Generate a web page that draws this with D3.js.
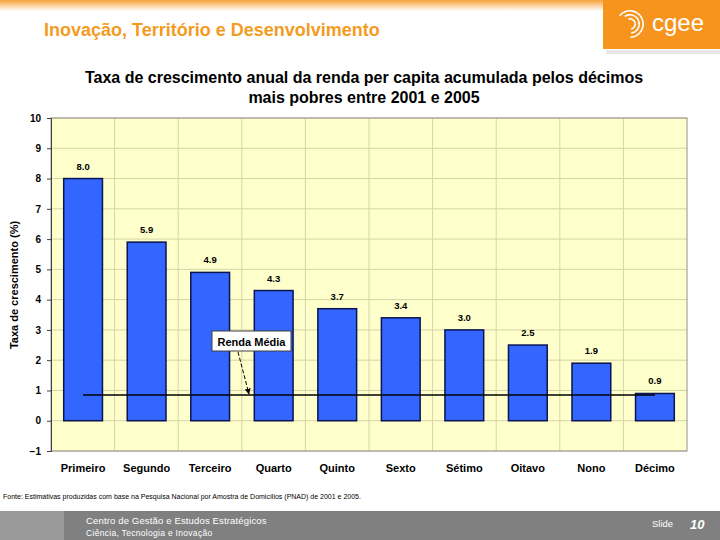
<!DOCTYPE html>
<meta charset="utf-8">
<style>
body { margin: 0; background: #fff; }
svg { font-family: "Liberation Sans", Arial, sans-serif; display: block; }
</style>
<svg width="720" height="540"></svg>
<script src="https://d3js.org/d3.v7.min.js"></script>
<script>

// dados do gráfico
var categorias = ["Primeiro", "Segundo", "Terceiro", "Quarto", "Quinto", "Sexto", "Sétimo", "Oitavo", "Nono", "Décimo"];
var taxas = [8.0, 5.9, 4.9, 4.3, 3.7, 3.4, 3.0, 2.5, 1.9, 0.9];
var rendaMedia = [0.85];
var ticksY = [-1, 0, 1, 2, 3, 4, 5, 6, 7, 8, 9, 10];

var svg = d3.select("svg"),
    width = +svg.attr("width"),
    height = +svg.attr("height");

var defs = svg.append("defs");

// faixa laranja do topo
var grad = defs.append("linearGradient").attr("id", "topo")
    .attr("x1", 0).attr("y1", 0).attr("x2", 0).attr("y2", 1);
grad.append("stop").attr("offset", "0%").attr("stop-color", "#f8a23c");
grad.append("stop").attr("offset", "100%").attr("stop-color", "#ffffff");
svg.append("rect").attr("x", 0).attr("y", 0).attr("width", width).attr("height", 11)
    .attr("fill", "url(#topo)");

svg.append("text")
    .attr("x", 44).attr("y", 36)
    .attr("fill", "#f39c1f")
    .style("font-size", "18px").style("font-weight", "bold")
    .text("Inovação, Território e Desenvolvimento");

// logo cgee
svg.append("rect").attr("x", 606).attr("y", 50).attr("width", 114).attr("height", 4).attr("fill", "#e8e8e8");
svg.append("rect").attr("x", 603).attr("y", 0).attr("width", 117).attr("height", 49).attr("fill", "#f7941d");
var logo = svg.append("g").attr("transform", "translate(630,24)");
[6, 10, 14].forEach(function(r, i) {
  logo.append("path")
      .attr("d", d3.arc().innerRadius(r - 1.6).outerRadius(r).startAngle(-0.3 - i * 0.3).endAngle(2.9 + i * 0.1)())
      .attr("fill", "#fff");
});
svg.append("text").attr("x", 652).attr("y", 31).attr("fill", "#fff")
    .style("font-size", "24px").text("cgee");

// título do gráfico
var titulo = svg.append("text").attr("text-anchor", "middle")
    .style("font-size", "16px").style("font-weight", "bold").attr("fill", "#000");
titulo.append("tspan").attr("x", 364).attr("y", 83).text("Taxa de crescimento anual da renda per capita acumulada pelos décimos");
titulo.append("tspan").attr("x", 364).attr("y", 103).text("mais pobres entre 2001 e 2005");

// área do gráfico
var margin = { left: 51, right: 687, top: 118, bottom: 451 };

var x = d3.scaleBand()
    .domain(categorias)
    .range([margin.left, margin.right])
    .paddingInner(0.39).paddingOuter(0.2);

var y = d3.scaleLinear()
    .domain([-1, 10])
    .range([margin.bottom, margin.top]);

svg.append("rect")
    .attr("x", margin.left).attr("y", margin.top)
    .attr("width", margin.right - margin.left).attr("height", margin.bottom - margin.top)
    .attr("fill", "#ffffcc");

// grade horizontal
svg.append("g").selectAll("line")
    .data(ticksY)
    .enter().append("line")
    .attr("x1", margin.left).attr("x2", margin.right)
    .attr("y1", function(d) { return y(d); }).attr("y2", function(d) { return y(d); })
    .attr("stroke", "#d4d4a8").attr("stroke-width", 1);

// grade vertical nas divisões das categorias
svg.append("g").selectAll("line")
    .data(d3.range(1, categorias.length))
    .enter().append("line")
    .attr("x1", function(d) { return margin.left + d * (margin.right - margin.left) / categorias.length; })
    .attr("x2", function(d) { return margin.left + d * (margin.right - margin.left) / categorias.length; })
    .attr("y1", margin.top).attr("y2", margin.bottom)
    .attr("stroke", "#d4d4a8").attr("stroke-width", 1);

svg.append("rect")
    .attr("x", margin.left).attr("y", margin.top)
    .attr("width", margin.right - margin.left).attr("height", margin.bottom - margin.top)
    .attr("fill", "none").attr("stroke", "#909090").attr("stroke-width", 1);

// eixo y
var eixoY = svg.append("g")
    .attr("transform", "translate(" + margin.left + ",0)")
    .call(d3.axisLeft(y).tickValues(ticksY).tickFormat(d3.format("d")).tickSize(4).tickPadding(6));
eixoY.select(".domain").attr("stroke", "#404040");
eixoY.selectAll(".tick line").attr("stroke", "#404040");
eixoY.selectAll("text").style("font-size", "10px").style("font-weight", "bold")
    .style("font-family", "Liberation Sans, Arial, sans-serif").attr("fill", "#000");

svg.append("text")
    .attr("transform", "translate(18,285) rotate(-90)")
    .attr("text-anchor", "middle")
    .style("font-size", "11px").style("font-weight", "bold")
    .text("Taxa de crescimento (%)");

// rótulos do eixo x
svg.append("g").selectAll("text")
    .data(categorias)
    .enter().append("text")
    .attr("x", function(d) { return x(d) + x.bandwidth() / 2; })
    .attr("y", 472)
    .attr("text-anchor", "middle")
    .style("font-size", "11px").style("font-weight", "bold")
    .text(function(d) { return d; });

// barras
svg.append("g").selectAll("rect")
    .data(taxas)
    .enter().append("rect")
    .attr("x", function(d, i) { return x(categorias[i]); })
    .attr("y", function(d) { return y(d); })
    .attr("width", x.bandwidth())
    .attr("height", function(d) { return y(0) - y(d); })
    .attr("fill", "#3366ff")
    .attr("stroke", "#0a1450").attr("stroke-width", 1.5);

// valores
svg.append("g").selectAll("text")
    .data(taxas)
    .enter().append("text")
    .attr("x", function(d, i) { return x(categorias[i]) + x.bandwidth() / 2; })
    .attr("y", function(d) { return y(d) - 9; })
    .attr("text-anchor", "middle")
    .style("font-size", "9.5px").style("font-weight", "bold")
    .text(function(d) { return d3.format(".1f")(d); });

// linha da renda média
var primeiro = categorias[0], ultimo = categorias[categorias.length - 1];
svg.append("line")
    .attr("x1", x(primeiro) + x.bandwidth() / 2)
    .attr("x2", x(ultimo) + x.bandwidth() / 2)
    .attr("y1", y(rendaMedia[0])).attr("y2", y(rendaMedia[0]))
    .attr("stroke", "#000").attr("stroke-width", 1.5);

// anotação "Renda Média"
defs.append("marker").attr("id", "seta")
    .attr("viewBox", "0 0 10 10").attr("refX", 9).attr("refY", 5)
    .attr("markerWidth", 6).attr("markerHeight", 6).attr("orient", "auto")
  .append("path").attr("d", "M0,0L10,5L0,10z").attr("fill", "#000");

svg.append("line")
    .attr("x1", 238).attr("y1", 352)
    .attr("x2", 249).attr("y2", y(rendaMedia[0]) - 1)
    .attr("stroke", "#000").attr("stroke-width", 1)
    .attr("stroke-dasharray", "4,2")
    .attr("marker-end", "url(#seta)");

svg.append("rect").attr("x", 212).attr("y", 331).attr("width", 79).attr("height", 20)
    .attr("fill", "#fff").attr("stroke", "#404040").attr("stroke-width", 1);
svg.append("text").attr("x", 251.5).attr("y", 345.5).attr("text-anchor", "middle")
    .style("font-size", "11px").style("font-weight", "bold").text("Renda Média");

// fonte
svg.append("text").attr("x", 3).attr("y", 499)
    .style("font-size", "7px").attr("fill", "#000")
    .text("Fonte: Estimativas produzidas com base na Pesquisa Nacional por Amostra de Domicílios (PNAD) de 2001 e 2005.");

// rodapé
svg.append("rect").attr("x", 0).attr("y", 511).attr("width", width).attr("height", 29).attr("fill", "#808080");
svg.append("rect").attr("x", 0).attr("y", 511).attr("width", 64).attr("height", 29).attr("fill", "#9a9a9a");
svg.append("text").attr("x", 86).attr("y", 524).attr("fill", "#fff")
    .style("font-size", "9.5px").style("letter-spacing", "0.15px").text("Centro de Gestão e Estudos Estratégicos");
svg.append("text").attr("x", 86).attr("y", 536).attr("fill", "#fff")
    .style("font-size", "8.5px").style("letter-spacing", "0.3px").text("Ciência, Tecnologia e Inovação");
svg.append("text").attr("x", 652).attr("y", 527).attr("fill", "#fff")
    .style("font-size", "9.5px").text("Slide");
svg.append("text").attr("x", 690).attr("y", 529).attr("fill", "#fff")
    .style("font-size", "13px").style("font-weight", "bold").style("font-style", "italic").text("10");

</script>
